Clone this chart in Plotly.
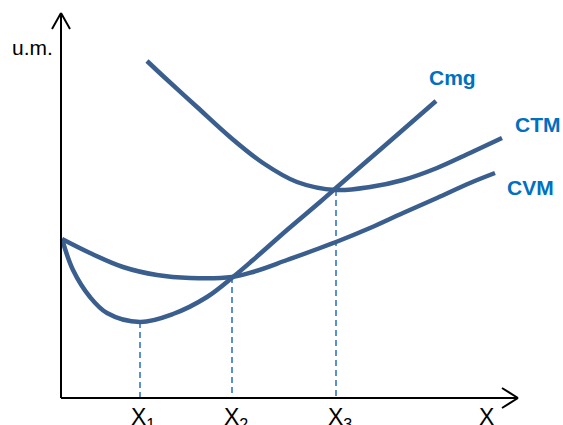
import plotly.graph_objects as go

# ---- data (x = quantity, y = cost in u.m.) ----
cmg_x = [0, 11, 28, 45, 78, 111, 145, 171, 191, 225, 258, 274, 305, 335, 374]
cmg_y = [159, 128, 101, 85, 76, 84, 101, 121, 138, 168, 196, 210, 237, 263, 297]

cvm_x = [0, 28, 61, 95, 128, 170, 191, 225, 274, 308, 341, 375, 408, 433]
cvm_y = [159, 145, 131, 123, 120, 121, 126, 138, 156, 170, 185, 200, 215, 225]

ctm_x = [85, 101, 135, 168, 201, 235, 274, 308, 341, 375, 408, 440]
ctm_y = [337, 322, 291, 261, 235, 216, 208, 211, 218, 230, 245, 260]

tick_labels = ["X<sub>1</sub>", "X<sub>2</sub>", "X<sub>3</sub>", "X"]
series_names = ["Cmg", "CTM", "CVM"]
y_label = "u.m."

# ---- style ----
CURVE = "#3A5F8E"
DASH = "#5A8FD0"
LABEL = "#0070C0"
FONT = "Liberation Sans"

# key quantities derived from the data
i1 = cmg_y.index(min(cmg_y))
x1, y1 = cmg_x[i1], cmg_y[i1]
x2, y2 = cvm_x[5], cvm_y[5]
i3 = ctm_y.index(min(ctm_y))
x3, y3 = ctm_x[i3], ctm_y[i3]

fig = go.Figure()
for xv, yv in [(x1, y1), (x2, y2), (x3, y3)]:
    fig.add_trace(go.Scatter(x=[xv, xv], y=[yv, 0], mode="lines",
                             line=dict(color=DASH, width=2, dash="6px,4px"),
                             hoverinfo="skip", showlegend=False))

for xs, ys, nm in [(cmg_x, cmg_y, "Cmg"), (cvm_x, cvm_y, "CVM"), (ctm_x, ctm_y, "CTM")]:
    fig.add_trace(go.Scatter(x=xs, y=ys, mode="lines", name=nm,
                             line=dict(color=CURVE, width=4.5, shape="spline", smoothing=1.0),
                             showlegend=False))

# axes with open arrowheads
x_end, y_end = 456, 385
ax = dict(type="line", xref="x", yref="y", line=dict(color="black", width=2), layer="above")
shapes = [
    dict(ax, x0=-1, y0=0, x1=x_end, y1=0),
    dict(ax, x0=-1, y0=0, x1=-1, y1=y_end),
    dict(ax, x0=x_end, y0=0, x1=x_end - 16, y1=10),
    dict(ax, x0=x_end, y0=0, x1=x_end - 16, y1=-10),
    dict(ax, x0=-1, y0=y_end, x1=-10, y1=y_end - 16),
    dict(ax, x0=-1, y0=y_end, x1=8, y1=y_end - 16),
]

annotations = []
tick_x = [x1 - 11, x2 - 10, x3 - 10, 415]
for tx, tl in zip(tick_x, tick_labels):
    annotations.append(dict(x=tx, y=-4, text=tl, showarrow=False, xanchor="left",
                            yanchor="top", font=dict(family=FONT, size=23, color="black")))
annotations.append(dict(x=-52, y=351, text=y_label, showarrow=False, xanchor="left",
                        yanchor="middle", font=dict(family=FONT, size=21, color="black")))
label_pos = {"Cmg": (365, 321), "CTM": (451, 274), "CVM": (443, 211)}
for nm in series_names:
    lx, ly = label_pos[nm]
    annotations.append(dict(x=lx, y=ly, text="<b>%s</b>" % nm, showarrow=False,
                            xanchor="left", yanchor="middle",
                            font=dict(family=FONT, size=21, color=LABEL)))

fig.update_layout(
    width=563, height=425, margin=dict(l=0, r=0, t=0, b=0),
    paper_bgcolor="white", plot_bgcolor="white",
    xaxis=dict(range=[-62, 501], visible=False, fixedrange=True),
    yaxis=dict(range=[-27, 398], visible=False, fixedrange=True),
    shapes=shapes, annotations=annotations,
)
fig.write_html(
    "out.html",
    config={"displayModeBar": False},
    post_script="document.body.style.margin='0';document.body.style.overflow='hidden';",
)
